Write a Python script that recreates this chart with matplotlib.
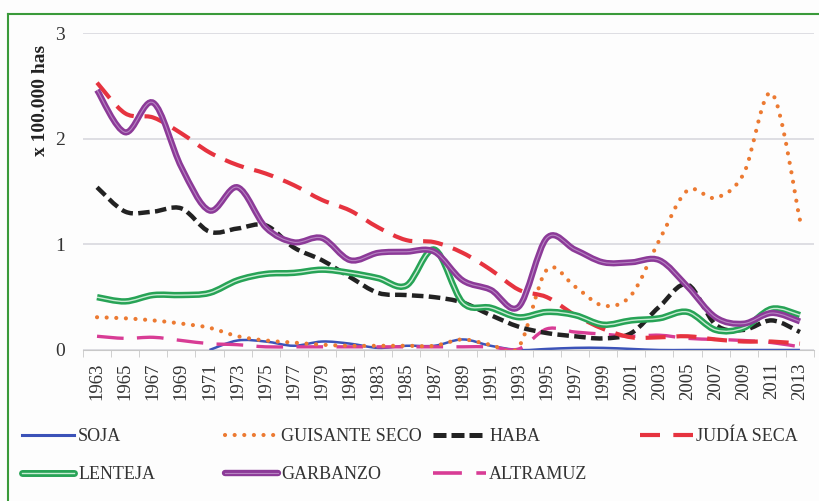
import numpy as np
import matplotlib.pyplot as plt
from matplotlib.path import Path
from matplotlib.patches import PathPatch
from matplotlib.lines import Line2D
from matplotlib.legend_handler import HandlerTuple

years = list(range(1963, 2014, 2))

soja = [np.nan, np.nan, np.nan, np.nan, 0.0, 0.09, 0.08, 0.04, 0.08, 0.06, 0.02, 0.04, 0.04,
        0.10, 0.04, 0.0, 0.01, 0.02, 0.02, 0.01, 0.0, 0.0, 0.0, 0.0, 0.0, 0.0]
guisante = [0.31, 0.30, 0.28, 0.25, 0.21, 0.13, 0.09, 0.07, 0.05, 0.04, 0.04, 0.04, 0.04,
            0.10, 0.05, 0.03, 0.76, 0.60, 0.42, 0.52, 1.04, 1.51, 1.44, 1.67, 2.43, 1.23]
haba = [1.54, 1.31, 1.31, 1.34, 1.12, 1.15, 1.18, 0.97, 0.85, 0.69, 0.54, 0.52, 0.50,
        0.45, 0.33, 0.22, 0.16, 0.13, 0.11, 0.16, 0.41, 0.62, 0.24, 0.19, 0.28, 0.17]
judia = [2.53, 2.24, 2.20, 2.05, 1.87, 1.75, 1.67, 1.56, 1.42, 1.32, 1.16, 1.04, 1.02,
         0.92, 0.76, 0.57, 0.50, 0.33, 0.20, 0.12, 0.12, 0.13, 0.10, 0.08, 0.08, 0.06]
lenteja = [0.50, 0.46, 0.52, 0.52, 0.54, 0.66, 0.72, 0.73, 0.76, 0.73, 0.68, 0.61, 0.95,
           0.45, 0.40, 0.31, 0.36, 0.33, 0.24, 0.28, 0.30, 0.36, 0.19, 0.21, 0.39, 0.33]
garbanzo = [2.46, 2.06, 2.34, 1.73, 1.32, 1.54, 1.16, 1.02, 1.06, 0.85, 0.92, 0.93, 0.93,
            0.66, 0.57, 0.41, 1.06, 0.95, 0.83, 0.83, 0.85, 0.60, 0.31, 0.25, 0.35, 0.27]
altramuz = [0.13, 0.11, 0.12, 0.09, 0.06, 0.05, 0.03, 0.03, 0.03, 0.03, 0.03, 0.03, 0.03,
            0.03, 0.03, 0.01, 0.20, 0.17, 0.15, 0.13, 0.14, 0.11, 0.10, 0.09, 0.07, 0.03]

labels = ['SOJA', 'GUISANTE SECO', 'HABA', 'JUDÍA SECA', 'LENTEJA', 'GARBANZO', 'ALTRAMUZ']


def smooth_path(xs, ys):
    # bezier path through the points (like Excel "smoothed line")
    pts = [(x, y) for x, y in zip(xs, ys) if not np.isnan(y)]
    verts = [pts[0]]
    codes = [Path.MOVETO]
    n = len(pts)
    for i in range(n - 1):
        p0 = pts[max(i - 1, 0)]
        p1 = pts[i]
        p2 = pts[i + 1]
        p3 = pts[min(i + 2, n - 1)]
        c1 = (p1[0] + (p2[0] - p0[0]) / 6, p1[1] + (p2[1] - p0[1]) / 6)
        c2 = (p2[0] - (p3[0] - p1[0]) / 6, p2[1] - (p3[1] - p1[1]) / 6)
        verts += [c1, c2, p2]
        codes += [Path.CURVE4] * 3
    return Path(verts, codes)


def draw(ax, ys, **kw):
    xs = np.arange(len(ys))
    p = PathPatch(smooth_path(xs, ys), fill=False, **kw)
    ax.add_patch(p)


plt.rcParams['font.family'] = ['Liberation Serif', 'DejaVu Serif']

fig = plt.figure(figsize=(8.19, 5.01), dpi=100)
fig.patch.set_facecolor('#fdfdfd')
ax = fig.add_axes([0.1013, 0.3014, 0.8926, 0.6327])
ax.set_facecolor('none')

x = np.arange(len(years))
ax.set_xlim(-0.5, len(years) - 0.5)
ax.set_ylim(0, 3)

ax.set_yticks([0, 1, 2, 3])
ax.yaxis.grid(True, color='#d8d8de', lw=1.2)
ax.set_axisbelow(True)
ax.tick_params(axis='y', length=0, labelsize=14, colors='#333333', pad=13)

ax.set_xticks(x)
ax.set_xticklabels([str(y) for y in years], rotation=90, fontsize=13.5, color='#333333')
ax.set_xticks(np.arange(-0.5, len(years)), minor=True)
ax.tick_params(axis='x', which='major', length=0, pad=9)
ax.tick_params(axis='x', which='minor', length=5, color='#c8c8c8')
for s in ['top', 'right', 'left']:
    ax.spines[s].set_visible(False)
ax.spines['bottom'].set_color('#c8c8c8')

c_soja = '#3b52b8'
c_gui = '#ec7a32'
c_haba = '#222222'
c_jud = '#e6333f'
c_len = '#27a356'
c_gar = '#8c3a98'
c_alt = '#d83c95'

draw(ax, soja, edgecolor=c_soja, lw=1.8)
draw(ax, altramuz, edgecolor=c_alt, lw=2.4, linestyle=(0, (8, 4)))
draw(ax, guisante, edgecolor=c_gui, lw=3.0, linestyle=(0, (0.01, 2.3)), capstyle='round')
draw(ax, haba, edgecolor=c_haba, lw=3.2, linestyle=(0, (2.6, 1.2)))
draw(ax, judia, edgecolor=c_jud, lw=3.0, linestyle=(0, (4.8, 2.6)))
draw(ax, lenteja, edgecolor=c_len, lw=4.6)
draw(ax, lenteja, edgecolor='#c9ecd4', lw=1.0)
draw(ax, garbanzo, edgecolor=c_gar, lw=4.4)
draw(ax, garbanzo, edgecolor='#b784c2', lw=0.8)

# legend proxies
h_soja = Line2D([], [], color=c_soja, lw=2.2)
h_gui = Line2D([], [], color=c_gui, lw=3.0, linestyle=(0, (0.01, 2.3)), dash_capstyle='round')
h_haba = Line2D([], [], color=c_haba, lw=3.6, linestyle=(0, (2.6, 1.0)))
h_jud = Line2D([], [], color=c_jud, lw=3.0, linestyle=(0, (4.8, 3.2)))
h_len = (Line2D([], [], color=c_len, lw=5.0, solid_capstyle='round'),
         Line2D([], [], color='#c9ecd4', lw=1.0))
h_gar = (Line2D([], [], color=c_gar, lw=4.6, solid_capstyle='round'),
         Line2D([], [], color='#b784c2', lw=0.8))
h_alt = Line2D([], [], color=c_alt, lw=2.6, linestyle=(0, (8, 4)))

columns = [
    (0.027, [h_soja, h_len], [labels[0], labels[4]]),
    (0.275, [h_gui, h_gar], [labels[1], labels[5]]),
    (0.529, [h_haba, h_alt], [labels[2], labels[6]]),
    (0.782, [h_jud], [labels[3]]),
]
for xpos, hs, ls in columns:
    leg = fig.legend(hs, ls, loc='upper left', bbox_to_anchor=(xpos, 0.145),
                     frameon=False, fontsize=13, handlelength=2.9, handletextpad=0.2,
                     labelspacing=1.15, borderaxespad=0, borderpad=0,
                     handler_map={tuple: HandlerTuple(ndivide=1)})
    for t in leg.get_texts():
        t.set_color('#333333')

fig.text(0.050, 0.80, 'x 100.000 has', rotation=90, ha='center', va='center',
         fontsize=14, fontweight='bold', color='#222222')

# green frame (left and top)
fig.add_artist(Line2D([0.0098, 0.0098], [0.0, 0.972], color='#3a9a3a', lw=1.5))
fig.add_artist(Line2D([0.0098, 1.0], [0.972, 0.972], color='#3a9a3a', lw=1.5))

fig.savefig('out.png', dpi=100, facecolor=fig.get_facecolor())
